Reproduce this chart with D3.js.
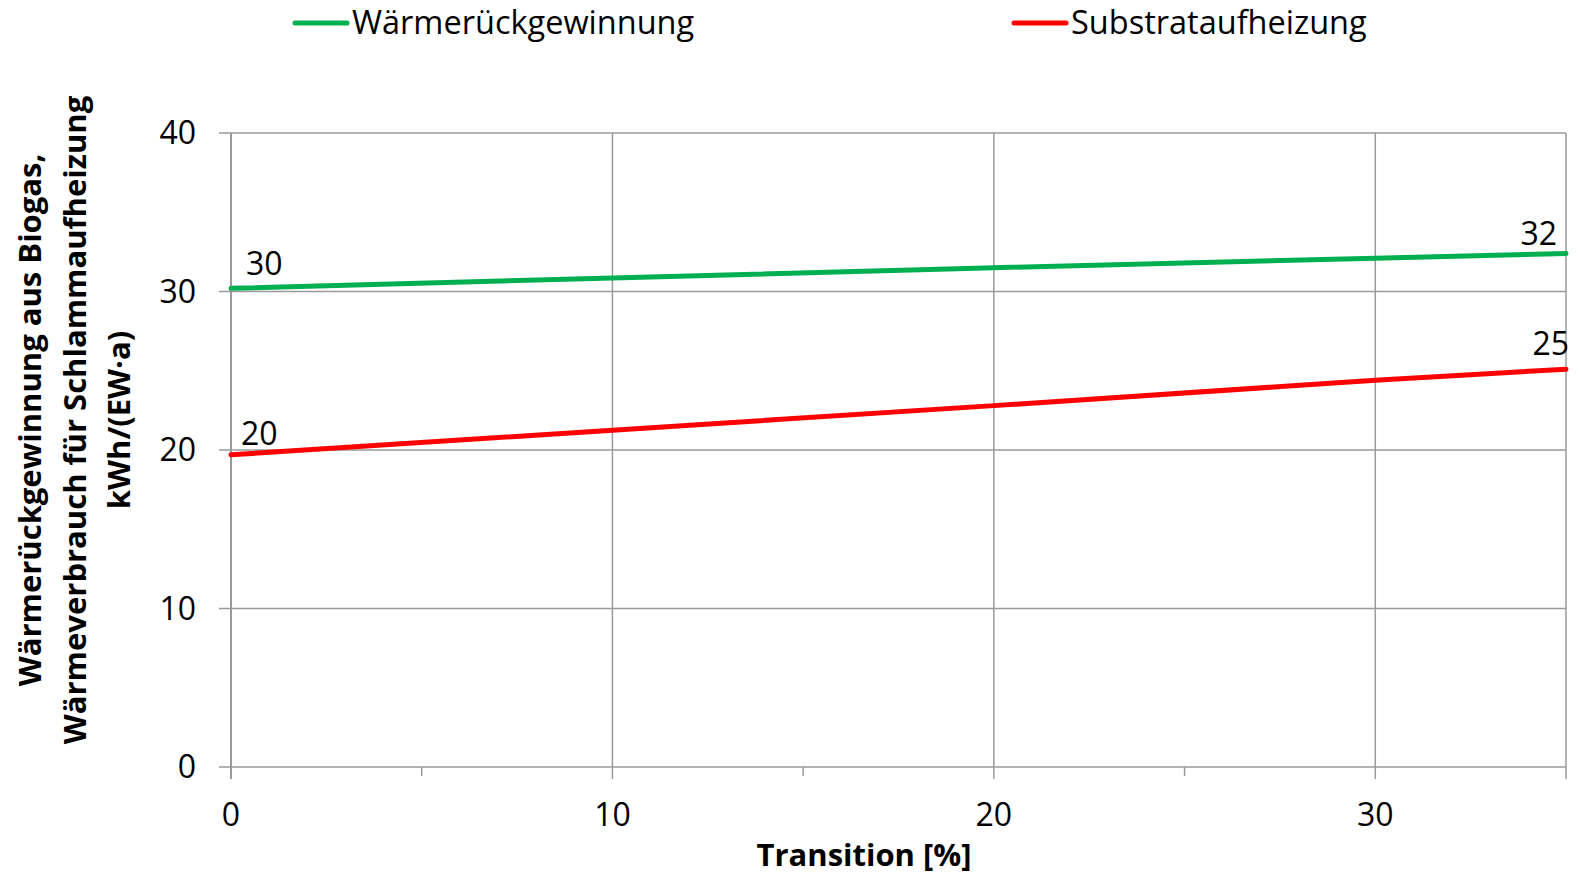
<!DOCTYPE html>
<html><head><meta charset="utf-8">
<script src="https://cdn.jsdelivr.net/npm/d3@7"></script>
<style>body{margin:0;background:#fff}svg{display:block}text{font-family:"Open Sans",sans-serif;fill:#000}</style>
</head><body><svg id="c" width="1579" height="874"></svg>
<script>
const xValues = [0, 10, 20, 30, 35];
const waermeRueck = [30.2, 30.85, 31.5, 32.1, 32.4];
const substrat = [19.7, 21.25, 22.8, 24.4, 25.1];
const seriesNames = ["Wärmerückgewinnung", "Substrataufheizung"];
const seriesColors = ["#00b050", "#ff0000"];
const xTicks = [0, 10, 20, 30];
const yTicks = [0, 10, 20, 30, 40];
const yTitle = ["Wärmerückgewinnung aus Biogas,", "Wärmeverbrauch für Schlammaufheizung", "kWh/(EW·a)"];
const xTitle = "Transition [%]";

const svg = d3.select("#c");
const L = 231, R = 1566, T = 133, B = 767;
const x = d3.scaleLinear().domain([0, 35]).range([L, R]);
const y = d3.scaleLinear().domain([0, 40]).range([B, T]);
const grid = "#9a9a9a";

// gridlines
svg.append("g").selectAll("line").data(yTicks).join("line")
  .attr("x1", L).attr("x2", R).attr("y1", d => y(d)).attr("y2", d => y(d))
  .attr("stroke", grid).attr("stroke-width", 1.5);
svg.append("g").selectAll("line").data([10, 20, 30, 35]).join("line")
  .attr("x1", d => x(d)).attr("x2", d => x(d)).attr("y1", T).attr("y2", B)
  .attr("stroke", grid).attr("stroke-width", 1.5);
svg.append("line").attr("x1", L).attr("x2", L).attr("y1", T).attr("y2", B + 12).attr("stroke", grid).attr("stroke-width", 2);
svg.append("g").selectAll("line").data(yTicks).join("line")
  .attr("x1", L - 12).attr("x2", L).attr("y1", d => y(d)).attr("y2", d => y(d))
  .attr("stroke", grid).attr("stroke-width", 1.5);
svg.append("g").selectAll("line").data([0, 10, 20, 30, 35]).join("line")
  .attr("x1", d => x(d)).attr("x2", d => x(d)).attr("y1", B).attr("y2", B + 12)
  .attr("stroke", grid).attr("stroke-width", 1.5);
svg.append("g").selectAll("line").data([5, 15, 25]).join("line")
  .attr("x1", d => x(d)).attr("x2", d => x(d)).attr("y1", B).attr("y2", B + 9)
  .attr("stroke", grid).attr("stroke-width", 1.5);

// tick labels
svg.append("g").selectAll("text").data(yTicks).join("text")
  .attr("x", 196).attr("y", d => y(d)).attr("dy", "0.35em")
  .attr("text-anchor", "end").attr("font-size", 32).text(d => d);
svg.append("g").selectAll("text").data(xTicks).join("text")
  .attr("x", d => x(d)).attr("y", 826)
  .attr("text-anchor", "middle").attr("font-size", 32).text(d => d);

// titles
svg.append("text").attr("x", 864).attr("y", 866).attr("text-anchor", "middle")
  .attr("font-size", 31).attr("font-weight", "bold").text(xTitle);
const yt = svg.append("text").attr("transform", "translate(0,420) rotate(-90)")
  .attr("text-anchor", "middle").attr("font-size", 31).attr("font-weight", "bold");
yt.selectAll("tspan").data(yTitle).join("tspan")
  .attr("x", 0).attr("y", (d, i) => 41 + i * 44.5).text(d => d);

// lines
const allSeries = [waermeRueck, substrat];
const line = d3.line().x((d, i) => x(xValues[i])).y(d => y(d));
allSeries.forEach((s, k) => {
  svg.append("path").datum(s).attr("d", line).attr("fill", "none")
    .attr("stroke", seriesColors[k]).attr("stroke-width", 5).attr("stroke-linecap", "round");
});

// data labels
const n = xValues.length - 1;
svg.append("text").attr("x", x(xValues[0]) + 15).attr("y", y(waermeRueck[0]) - 13).attr("font-size", 32).text(Math.round(waermeRueck[0]));
svg.append("text").attr("x", x(xValues[0]) + 10).attr("y", y(substrat[0]) - 10).attr("font-size", 32).text(Math.round(substrat[0]));
svg.append("text").attr("x", x(xValues[n]) - 9).attr("y", y(waermeRueck[n]) - 8).attr("text-anchor", "end").attr("font-size", 32).text(Math.round(waermeRueck[n]));
svg.append("text").attr("x", x(xValues[n]) + 3).attr("y", y(substrat[n]) - 14).attr("text-anchor", "end").attr("font-size", 32).text(Math.round(substrat[n]));

// legend
const legX = [295, 1014];
seriesNames.forEach((nm, k) => {
  svg.append("line").attr("x1", legX[k]).attr("x2", legX[k] + 52).attr("y1", 23).attr("y2", 23)
    .attr("stroke", seriesColors[k]).attr("stroke-width", 5).attr("stroke-linecap", "round");
  svg.append("text").attr("x", legX[k] + 57).attr("y", 34).attr("font-size", 32.5).text(nm);
});
</script></body></html>
